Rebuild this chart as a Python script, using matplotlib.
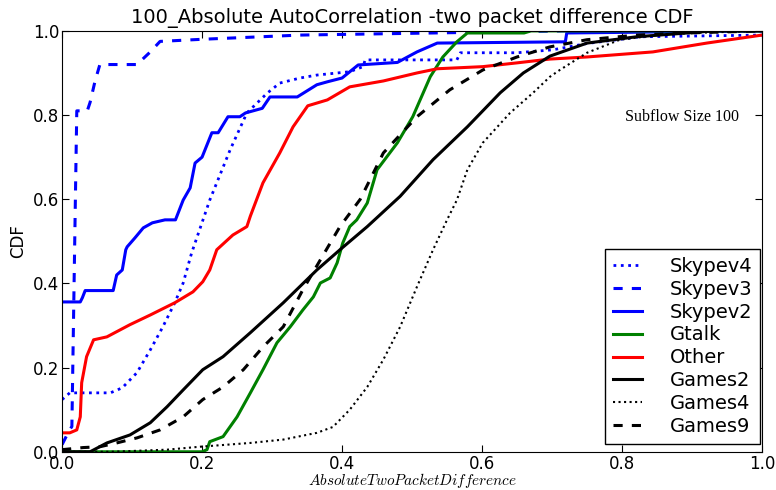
import matplotlib
matplotlib.use('Agg')
import matplotlib.pyplot as plt

plt.rcParams['mathtext.fontset'] = 'cm'
plt.rcParams['font.family'] = 'DejaVu Sans'

# data
skypev4_x = [0, 0.011, 0.069, 0.086, 0.107, 0.126, 0.144, 0.161, 0.173, 0.185, 0.211, 0.24, 0.264,
             0.293, 0.311, 0.34, 0.364, 0.411, 0.43, 0.433, 0.564, 0.569, 0.65, 0.701, 0.75, 0.826, 1.0]
skypev4_y = [0.124, 0.14, 0.14, 0.152, 0.188, 0.242, 0.297, 0.354, 0.401, 0.472, 0.598, 0.717, 0.805,
             0.852, 0.876, 0.888, 0.895, 0.903, 0.915, 0.931, 0.931, 0.948, 0.948, 0.955, 0.97, 0.986, 0.99]

skypev3_x = [0, 0.01, 0.014, 0.019, 0.021, 0.036, 0.04, 0.047, 0.054, 0.107, 0.126, 0.14, 0.2, 0.34, 0.72, 1.0]
skypev3_y = [0.017, 0.05, 0.06, 0.6, 0.81, 0.81, 0.83, 0.88, 0.92, 0.92, 0.95, 0.975, 0.98, 0.99, 1.0, 1.0]

skypev2_x = [0, 0.026, 0.029, 0.033, 0.073, 0.078, 0.086, 0.091, 0.093, 0.104, 0.116, 0.129, 0.147, 0.162,
             0.173, 0.183, 0.19, 0.2, 0.214, 0.223, 0.237, 0.254, 0.262, 0.286, 0.297, 0.336, 0.364, 0.379,
             0.40, 0.423, 0.479, 0.507, 0.536, 0.719, 0.721, 1.0]
skypev2_y = [0.356, 0.356, 0.366, 0.383, 0.383, 0.42, 0.432, 0.48, 0.487, 0.508, 0.532, 0.544, 0.551, 0.551,
             0.598, 0.627, 0.686, 0.7, 0.758, 0.758, 0.796, 0.796, 0.805, 0.816, 0.843, 0.843, 0.872, 0.879,
             0.888, 0.919, 0.925, 0.95, 0.971, 0.974, 0.995, 1.0]

gtalk_x = [0, 0.2, 0.207, 0.211, 0.23, 0.25, 0.269, 0.287, 0.307, 0.326, 0.344, 0.359, 0.369, 0.383, 0.393,
           0.401, 0.411, 0.421, 0.436, 0.45, 0.479, 0.501, 0.526, 0.544, 0.564, 0.579, 0.66, 0.67, 1.0]
gtalk_y = [0, 0, 0.005, 0.024, 0.036, 0.083, 0.14, 0.195, 0.259, 0.297, 0.337, 0.368, 0.401, 0.413, 0.449,
           0.496, 0.535, 0.551, 0.591, 0.67, 0.734, 0.796, 0.891, 0.938, 0.974, 0.995, 0.995, 1.0, 1.0]

other_x = [0, 0.011, 0.021, 0.026, 0.028, 0.035, 0.045, 0.064, 0.097, 0.126, 0.161, 0.187, 0.201, 0.211,
           0.221, 0.244, 0.264, 0.269, 0.287, 0.311, 0.33, 0.351, 0.379, 0.411, 0.459, 0.507, 0.536, 0.601,
           0.65, 0.697, 0.75, 0.844, 0.921, 1.0]
other_y = [0.045, 0.045, 0.052, 0.083, 0.164, 0.226, 0.266, 0.273, 0.302, 0.325, 0.354, 0.38, 0.404, 0.432,
           0.48, 0.515, 0.535, 0.56, 0.639, 0.71, 0.772, 0.822, 0.836, 0.867, 0.881, 0.9, 0.91, 0.915,
           0.924, 0.933, 0.938, 0.95, 0.971, 0.99]

games2_x = [0, 0.04, 0.064, 0.097, 0.126, 0.15, 0.173, 0.201, 0.23, 0.269, 0.316, 0.364, 0.397, 0.436,
            0.483, 0.53, 0.579, 0.626, 0.659, 0.697, 0.75, 0.821, 0.893, 0.93, 1.0]
games2_y = [0, 0, 0.021, 0.04, 0.069, 0.107, 0.147, 0.195, 0.226, 0.283, 0.354, 0.432, 0.48, 0.535,
            0.607, 0.694, 0.772, 0.853, 0.9, 0.94, 0.971, 0.986, 0.995, 1.0, 1.0]

games4_x = [0, 0.069, 0.15, 0.197, 0.269, 0.316, 0.364, 0.387, 0.411, 0.436, 0.459, 0.483, 0.507, 0.53,
            0.55, 0.564, 0.579, 0.601, 0.64, 0.673, 0.697, 0.711, 0.75, 0.797, 0.85, 0.9, 1.0]
games4_y = [0, 0, 0.005, 0.012, 0.021, 0.029, 0.045, 0.059, 0.1, 0.154, 0.219, 0.297, 0.392, 0.48,
            0.551, 0.598, 0.67, 0.734, 0.805, 0.853, 0.891, 0.907, 0.948, 0.979, 0.99, 0.995, 1.0]

games9_x = [0, 0.03, 0.054, 0.078, 0.107, 0.14, 0.173, 0.201, 0.23, 0.259, 0.287, 0.316, 0.344, 0.369,
            0.397, 0.426, 0.459, 0.507, 0.554, 0.601, 0.65, 0.697, 0.75, 0.821, 0.893, 1.0]
games9_y = [0.005, 0.01, 0.012, 0.021, 0.033, 0.052, 0.083, 0.124, 0.154, 0.195, 0.249, 0.297, 0.385, 0.456,
            0.535, 0.6, 0.71, 0.796, 0.86, 0.907, 0.938, 0.962, 0.979, 0.99, 0.995, 1.0]

fig = plt.figure(figsize=(7.76, 4.9), dpi=100)
ax = fig.add_axes([0.080, 0.078, 0.902, 0.859])

ax.plot(skypev4_x, skypev4_y, color='blue', ls=':', lw=2, label='Skypev4')
ax.plot(skypev3_x, skypev3_y, color='blue', ls=(0, (3, 3)), lw=2.2, label='Skypev3')
ax.plot(skypev2_x, skypev2_y, color='blue', ls='-', lw=2.2, label='Skypev2')
ax.plot(gtalk_x, gtalk_y, color='green', ls='-', lw=2.2, label='Gtalk')
ax.plot(other_x, other_y, color='red', ls='-', lw=2.2, label='Other')
ax.plot(games2_x, games2_y, color='black', ls='-', lw=2.2, label='Games2')
ax.plot(games4_x, games4_y, color='black', ls=':', lw=1.5, label='Games4')
ax.plot(games9_x, games9_y, color='black', ls=(0, (3, 3)), lw=2.2, label='Games9')

ax.set_xlim(0, 1)
ax.set_ylim(0, 1)
ax.set_xticks([0, 0.2, 0.4, 0.6, 0.8, 1.0])
ax.set_yticks([0, 0.2, 0.4, 0.6, 0.8, 1.0])
ax.tick_params(direction='in', top=True, right=True, labelsize=12, length=5, pad=2)
ax.xaxis.set_major_formatter(plt.FormatStrFormatter('%.1f'))
ax.yaxis.set_major_formatter(plt.FormatStrFormatter('%.1f'))

ax.set_title('100_Absolute AutoCorrelation -two packet difference CDF', fontsize=14, pad=6)
ax.set_xlabel(r'$AbsoluteTwoPacketDifference$', fontsize=11, labelpad=-1)
ax.set_ylabel('CDF', fontsize=12)
ax.text(0.804, 0.796, 'Subflow Size 100', family='Liberation Serif', fontsize=11.5,
        ha='left', va='center', transform=ax.transAxes)

leg = ax.legend(loc='lower right', bbox_to_anchor=(0.997, 0.019), borderaxespad=0,
                fontsize=14, fancybox=False, framealpha=1, handlelength=1.5,
                handletextpad=1.4, labelspacing=0.2, borderpad=0.4)
leg.get_frame().set_edgecolor('black')

fig.savefig('out.png', dpi=100)
